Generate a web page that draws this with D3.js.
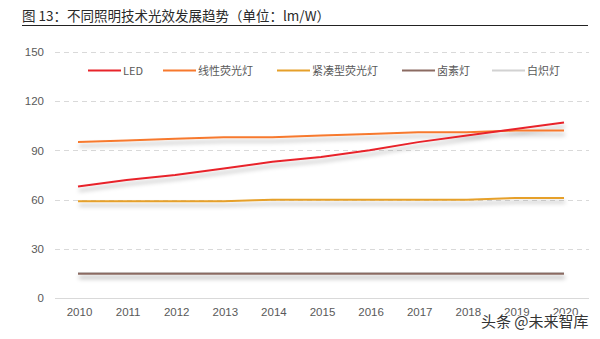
<!DOCTYPE html>
<html>
<head>
<meta charset="utf-8">
<script src="https://cdn.jsdelivr.net/npm/d3@7/dist/d3.min.js"></script>
<style>
  html, body { margin: 0; padding: 0; background: #fff; }
  svg { display: block; font-family: "Liberation Sans", Arial, sans-serif; }
</style>
</head>
<body>
<svg id="chart" width="600" height="339"></svg>
<script>
// Luminous efficacy of lighting technologies, lm/W
const years = ["2010","2011","2012","2013","2014","2015","2016","2017","2018","2019","2020"];
const yTicks = [0, 30, 60, 90, 120, 150];
const seriesNames = ["LED", "线性荧光灯", "紧凑型荧光灯", "卤素灯", "白炽灯"];
const seriesColors = ["#e8242b", "#f7792d", "#e6a02a", "#8b6b62", "#d2d2d2"];
const ledValues        = [68, 72, 75, 79, 83, 86, 90, 95, 99, 103, 107];
const linearFluValues  = [95, 96, 97, 98, 98, 99, 100, 101, 101, 102, 102];
const compactFluValues = [59, 59, 59, 59, 60, 60, 60, 60, 60, 61, 61];
const halogenValues    = [15, 15, 15, 15, 15, 15, 15, 15, 15, 15, 15];
const incandValues     = [15.4, 15.4, 15.4, 15.4, 15.4, 15.4, 15.4, 15.4, 15.4, 15.4, 15.4];

const series = [
  { name: seriesNames[0], color: seriesColors[0], values: ledValues },
  { name: seriesNames[1], color: seriesColors[1], values: linearFluValues },
  { name: seriesNames[2], color: seriesColors[2], values: compactFluValues },
  { name: seriesNames[3], color: seriesColors[3], values: halogenValues },
  { name: seriesNames[4], color: seriesColors[4], values: incandValues }
];

const svg = d3.select("#chart");

// Drop shadow under the lines
const defs = svg.append("defs");
const f = defs.append("filter").attr("id", "shadow")
  .attr("x", "-5%").attr("y", "-200%").attr("width", "110%").attr("height", "500%");
f.append("feDropShadow").attr("dx", 1).attr("dy", 4).attr("stdDeviation", 2)
  .attr("flood-color", "#000").attr("flood-opacity", 0.28);

// Title with underline
svg.append("text").attr("x", 22).attr("y", 21)
  .attr("font-family", "'Noto Sans CJK SC', sans-serif")
  .attr("font-size", 13.5).attr("fill", "#2a2a2a")
  .text("图  13：不同照明技术光效发展趋势（单位：lm/W）");
svg.append("line").attr("x1", 22).attr("x2", 588).attr("y1", 25.5).attr("y2", 25.5)
  .attr("stroke", "#222").attr("stroke-width", 1);

const x = d3.scalePoint().domain(years).range([78, 564]);
const y = d3.scaleLinear().domain([0, 150]).range([298.3, 51.7]);

// Gridlines
svg.append("g").selectAll("line").data(yTicks.filter(d => d > 0)).join("line")
  .attr("x1", 55).attr("x2", 589)
  .attr("y1", d => Math.round(y(d)) + 0.5).attr("y2", d => Math.round(y(d)) + 0.5)
  .attr("stroke", "#d9d9d9").attr("stroke-dasharray", "5,4");

// Baseline
svg.append("line").attr("x1", 55).attr("x2", 589)
  .attr("y1", Math.round(y(0)) + 0.5).attr("y2", Math.round(y(0)) + 0.5)
  .attr("stroke", "#d9d9d9");

// Y axis labels
const yAxis = d3.axisLeft(y).tickValues(yTicks).tickSize(0).tickPadding(0);
const yg = svg.append("g").attr("transform", "translate(44,0)").call(yAxis);
yg.select(".domain").remove();
yg.selectAll("text").attr("font-size", 11.5).attr("fill", "#595959")
  .attr("font-family", "'Liberation Sans', Arial, sans-serif");

// X axis labels
const xAxis = d3.axisBottom(x).tickSize(0).tickPadding(0);
const xg = svg.append("g").attr("transform", "translate(1,308)").call(xAxis);
xg.select(".domain").remove();
xg.selectAll("text").attr("font-size", 11.5).attr("fill", "#595959")
  .attr("font-family", "'Liberation Sans', Arial, sans-serif");

// Lines (drawn back to front)
const line = d3.line().x((d, i) => x(years[i])).y(d => y(d));
const drawOrder = [4, 3, 2, 1, 0];
svg.append("g").attr("filter", "url(#shadow)")
  .selectAll("path").data(drawOrder.map(i => series[i])).join("path")
  .attr("d", d => line(d.values))
  .attr("fill", "none").attr("stroke", d => d.color).attr("stroke-width", 2);

// Legend
const legendX = [88, 163, 277, 402, 492];
const lg = svg.append("g");
series.forEach((s, i) => {
  lg.append("line").attr("x1", legendX[i]).attr("x2", legendX[i] + 33)
    .attr("y1", 70.5).attr("y2", 70.5).attr("stroke", s.color).attr("stroke-width", 2);
  lg.append("text").attr("x", legendX[i] + 35).attr("y", 74.5)
    .attr("font-family", "'Noto Sans CJK SC', sans-serif")
    .attr("font-size", 11).attr("fill", "#595959").text(s.name);
});

// Source mark
svg.append("text").attr("x", 481).attr("y", 327)
  .attr("font-family", "'Noto Sans CJK SC', sans-serif")
  .attr("font-size", 15).attr("fill", "#333")
  .attr("stroke", "#fff").attr("stroke-width", 2).attr("paint-order", "stroke")
  .text("头条 @未来智库");
</script>
</body>
</html>
